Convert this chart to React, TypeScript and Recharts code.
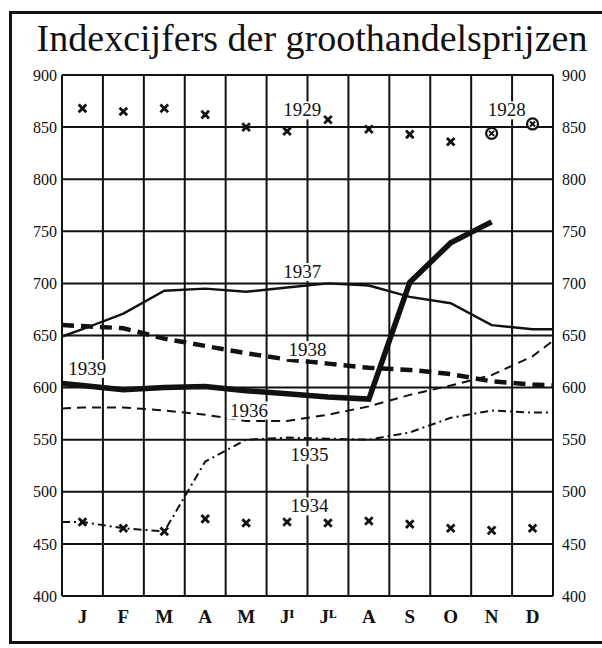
import {
  ComposedChart,
  Line,
  Scatter,
  XAxis,
  YAxis,
  CartesianGrid,
  ReferenceLine,
  ReferenceDot,
} from "recharts";

// month columns; lines also run out to the left/right edge of the plot
const months = ["J", "F", "M", "A", "M", "Jᴵ", "Jᴸ", "A", "S", "O", "N", "D"];
const yTicks = [400, 450, 500, 550, 600, 650, 700, 750, 800, 850, 900];
const gridCols = [0, 1, 2, 3, 4, 5, 6, 7, 8, 9, 10, 11, 12];

// values: [left edge, J .. D, right edge]
const v1937 = [649, 656, 671, 693, 695, 692, 696, 700, 698, 687, 681, 660, 656, 656];
const v1938 = [660, 659, 657, 647, 640, 633, 627, 623, 619, 617, 613, 606, 603, 602];
const v1936 = [580, 581, 581, 578, 574, 568, 568, 574, 582, 593, 602, 612, 630, 645];
const v1935 = [471, 471, 465, 462, 529, 550, 552, 551, 550, 557, 571, 578, 576, 576];
// 1939: [left edge, J .. N]
const v1939 = [604, 602, 598, 600, 601, 597, 594, 591, 589, 701, 739, 759];

// single monthly marks
const x1934 = [471, 465, 462, 474, 470, 471, 470, 472, 469, 465, 463, 465];
const x1929 = [868, 865, 868, 862, 850, 846, 857, 848, 843, 836];
const o1928 = [844, 853]; // N, D

const yearLabels = [
  { text: "1939", col: 0.62, value: 618 },
  { text: "1938", col: 6.0, value: 636 },
  { text: "1937", col: 5.87, value: 711 },
  { text: "1936", col: 4.57, value: 578 },
  { text: "1935", col: 6.05, value: 535 },
  { text: "1934", col: 6.05, value: 486 },
  { text: "1929", col: 5.87, value: 866 },
  { text: "1928", col: 10.87, value: 866 },
];

const INK = "#111";
const FONT = "'Liberation Serif', 'DejaVu Serif', serif";

const monthPos = months.map((_, i) => i + 0.5);
const edgePos = [0, ...monthPos, 12];
const toRows = (vals: number[], pos: number[]) => vals.map((v, i) => ({ x: pos[i], v }));
const toMarks = (vals: number[], first: number) =>
  vals.map((v, i) => ({ x: monthPos[first + i], v }));

const XMark = (p: any) => (
  <g stroke={INK} strokeWidth={2.8}>
    <line x1={p.cx - 3.8} y1={p.cy - 3.8} x2={p.cx + 3.8} y2={p.cy + 3.8} />
    <line x1={p.cx - 3.8} y1={p.cy + 3.8} x2={p.cx + 3.8} y2={p.cy - 3.8} />
  </g>
);

const CircleMark = (p: any) => (
  <g stroke={INK}>
    <circle cx={p.cx} cy={p.cy} r={5.5} fill="#fff" strokeWidth={2.2} />
    <line x1={p.cx - 2.5} y1={p.cy - 2.5} x2={p.cx + 2.5} y2={p.cy + 2.5} strokeWidth={2} />
    <line x1={p.cx - 2.5} y1={p.cy + 2.5} x2={p.cx + 2.5} y2={p.cy - 2.5} strokeWidth={2} />
  </g>
);

const MonthTick = (p: any) => {
  const label = months[Math.round(p.payload.value - 0.5)];
  return (
    <text
      x={p.x}
      y={p.y + 21}
      textAnchor="middle"
      fontFamily={FONT}
      fontWeight="bold"
      fontSize={19}
      fill={INK}
    >
      {label}
    </text>
  );
};

const YearLabel = (text: string) => (p: any) => (
  <g>
    <rect x={p.cx - 22} y={p.cy - 9} width={44} height={18} fill="#fff" />
    <text
      x={p.cx}
      y={p.cy + 6}
      textAnchor="middle"
      fontFamily={FONT}
      fontSize={19}
      fill={INK}
    >
      {text}
    </text>
  </g>
);

export default function App() {
  const tickStyle = { fontFamily: FONT, fontSize: 16, fill: INK };
  return (
    <div
      style={{
        position: "absolute",
        left: 0,
        top: 0,
        width: 602,
        height: 648,
        background: "#fff",
      }}
    >
      <div
        style={{
          position: "absolute",
          left: 9,
          top: 11,
          width: 600,
          height: 627,
          borderLeft: `3px solid ${INK}`,
          borderTop: `3px solid ${INK}`,
          borderBottom: `3px solid ${INK}`,
        }}
      />
      <div
        style={{
          position: "absolute",
          left: 22,
          top: 19,
          width: 580,
          textAlign: "center",
          fontFamily: FONT,
          fontSize: 38,
          lineHeight: "38px",
          color: INK,
        }}
      >
        Indexcijfers der groothandelsprijzen
      </div>
      <div style={{ position: "absolute", left: 0, top: 0 }}>
        <ComposedChart
          width={602}
          height={648}
          margin={{ top: 75, right: 4, bottom: 17, left: 12 }}
        >
          <CartesianGrid
            yAxisId="l"
            vertical={false}
            stroke={INK}
            strokeWidth={2}
          />
          <XAxis
            type="number"
            dataKey="x"
            domain={[0, 12]}
            ticks={monthPos}
            interval={0}
            allowDataOverflow
            axisLine={false}
            tickLine={false}
            tickSize={6}
            tickMargin={0}
            height={35}
            tick={<MonthTick />}
          />
          <YAxis
            yAxisId="l"
            type="number"
            dataKey="v"
            domain={[400, 900]}
            ticks={yTicks}
            interval={0}
            allowDataOverflow
            axisLine={false}
            tickLine={false}
            tickSize={3}
            tickMargin={2}
            width={50}
            tick={tickStyle}
          />
          <YAxis
            yAxisId="r"
            orientation="right"
            type="number"
            dataKey="v"
            domain={[400, 900]}
            ticks={yTicks}
            interval={0}
            allowDataOverflow
            axisLine={false}
            tickLine={false}
            tickSize={6}
            tickMargin={3}
            width={45}
            tick={{ ...tickStyle, textAnchor: "start" }}
          />
          {gridCols.map((c) => (
            <ReferenceLine
              key={c}
              yAxisId="l"
              x={c}
              stroke={INK}
              strokeWidth={2}
              ifOverflow="extendDomain"
            />
          ))}
          <ReferenceLine yAxisId="l" y={400} stroke={INK} strokeWidth={2} />
          <ReferenceLine yAxisId="l" y={900} stroke={INK} strokeWidth={2} />
          {yearLabels.map((l) => (
            <ReferenceDot
              key={l.text}
              yAxisId="l"
              x={l.col}
              y={l.value}
              r={0}
              shape={YearLabel(l.text)}
            />
          ))}
          <Line
            yAxisId="l"
            data={toRows(v1935, edgePos)}
            dataKey="v"
            stroke={INK}
            strokeWidth={2}
            strokeDasharray="8 4 2 4"
            dot={false}
            isAnimationActive={false}
          />
          <Line
            yAxisId="l"
            data={toRows(v1936, edgePos)}
            dataKey="v"
            stroke={INK}
            strokeWidth={2}
            strokeDasharray="9 6"
            dot={false}
            isAnimationActive={false}
          />
          <Line
            yAxisId="l"
            data={toRows(v1937, edgePos)}
            dataKey="v"
            stroke={INK}
            strokeWidth={2.4}
            dot={false}
            isAnimationActive={false}
          />
          <Line
            yAxisId="l"
            data={toRows(v1938, edgePos)}
            dataKey="v"
            stroke={INK}
            strokeWidth={4.5}
            strokeDasharray="12 7"
            dot={false}
            isAnimationActive={false}
          />
          <Line
            yAxisId="l"
            data={toRows(v1939, edgePos)}
            dataKey="v"
            stroke={INK}
            strokeWidth={5.5}
            dot={false}
            isAnimationActive={false}
          />
          <Scatter
            yAxisId="l"
            data={toMarks(x1934, 0)}
            dataKey="v"
            shape={XMark}
            isAnimationActive={false}
          />
          <Scatter
            yAxisId="l"
            data={toMarks(x1929, 0)}
            dataKey="v"
            shape={XMark}
            isAnimationActive={false}
          />
          <Scatter
            yAxisId="l"
            data={toMarks(o1928, 10)}
            dataKey="v"
            shape={CircleMark}
            isAnimationActive={false}
          />
        </ComposedChart>
      </div>
    </div>
  );
}
